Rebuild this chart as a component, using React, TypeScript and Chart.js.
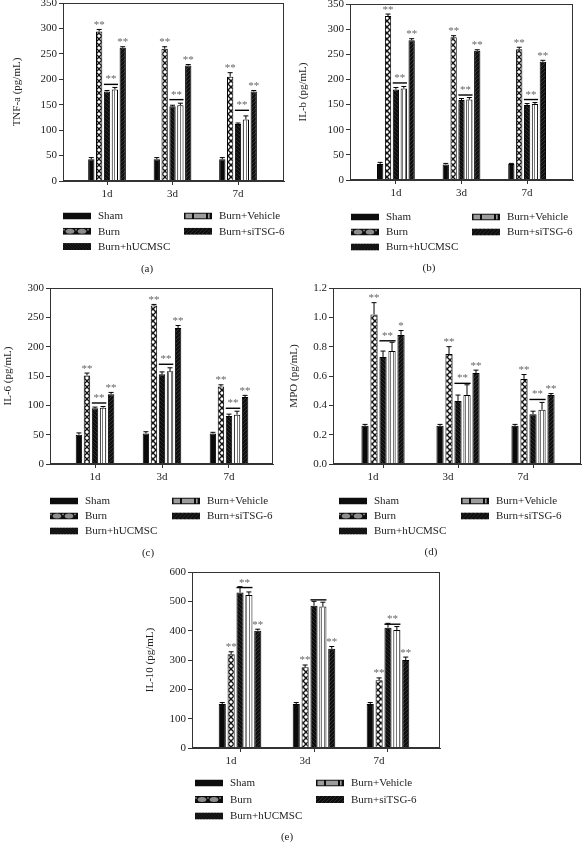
import React, { useEffect, useRef } from 'react';
import { Chart, registerables } from 'chart.js';

Chart.register(...registerables);

const FONT = 'Liberation Serif';
const TEXT = '#222';
const AXIS = '#333';
const STAR = '#666';

const categories = ['1d', '3d', '7d'];
const seriesNames = ['Sham', 'Burn', 'Burn+hUCMSC', 'Burn+Vehicle', 'Burn+siTSG-6'];

// (a) TNF-a
const tnfSham = [43, 43, 43];
const tnfBurn = [294, 260, 205];
const tnfHucmsc = [176, 147, 112];
const tnfVehicle = [180, 149, 121];
const tnfSitsg = [262, 227, 176];
const tnfShamErr = [3, 3, 3];
const tnfBurnErr = [4, 4, 8];
const tnfHucmscErr = [2, 2, 2];
const tnfVehicleErr = [4, 4, 7];
const tnfSitsgErr = [2, 2, 2];
const tnfLine = [190, 160, 139];
const tnfLineStars = ['**', '**', '**'];
const tnfBurnStars = ['**', '**', '**'];
const tnfSitsgStars = ['**', '**', '**'];
const tnfYTicks = [0, 50, 100, 150, 200, 250, 300, 350];

// (b) IL-b
const ilbSham = [32, 31, 32];
const ilbBurn = [326, 284, 260];
const ilbHucmsc = [180, 159, 149];
const ilbVehicle = [182, 160, 151];
const ilbSitsg = [278, 257, 235];
const ilbShamErr = [3, 2, 1];
const ilbBurnErr = [4, 3, 4];
const ilbHucmscErr = [4, 3, 3];
const ilbVehicleErr = [4, 4, 3];
const ilbSitsgErr = [3, 2, 3];
const ilbLine = [193, 169, 160];
const ilbLineStars = ['**', '**', '**'];
const ilbBurnStars = ['**', '**', '**'];
const ilbSitsgStars = ['**', '**', '**'];
const ilbYTicks = [0, 50, 100, 150, 200, 250, 300, 350];

// (c) IL-6
const il6Sham = [50, 52, 52];
const il6Burn = [151, 270, 132];
const il6Hucmsc = [95, 153, 82];
const il6Vehicle = [96, 158, 84];
const il6Sitsg = [119, 232, 114];
const il6ShamErr = [3, 3, 2];
const il6BurnErr = [4, 2, 3];
const il6HucmscErr = [2, 4, 3];
const il6VehicleErr = [2, 6, 6];
const il6SitsgErr = [3, 4, 3];
const il6Line = [104, 170, 95];
const il6LineStars = ['**', '**', '**'];
const il6BurnStars = ['**', '**', '**'];
const il6SitsgStars = ['**', '**', '**'];
const il6YTicks = [0, 50, 100, 150, 200, 250, 300];

// (d) MPO
const mpoSham = [0.26, 0.26, 0.26];
const mpoBurn = [1.02, 0.75, 0.58];
const mpoHucmsc = [0.73, 0.43, 0.34];
const mpoVehicle = [0.77, 0.47, 0.37];
const mpoSitsg = [0.88, 0.62, 0.47];
const mpoShamErr = [0.01, 0.01, 0.01];
const mpoBurnErr = [0.08, 0.05, 0.03];
const mpoHucmscErr = [0.04, 0.04, 0.02];
const mpoVehicleErr = [0.06, 0.07, 0.05];
const mpoSitsgErr = [0.03, 0.02, 0.01];
const mpoLine = [0.84, 0.55, 0.44];
const mpoLineStars = ['**', '**', '**'];
const mpoBurnStars = ['**', '**', '**'];
const mpoSitsgStars = ['*', '**', '**'];
const mpoYTicks = [0, 0.2, 0.4, 0.6, 0.8, 1.0, 1.2];

// (e) IL-10
const il10Sham = [150, 150, 150];
const il10Burn = [320, 275, 231];
const il10Hucmsc = [530, 485, 410];
const il10Vehicle = [522, 482, 402];
const il10Sitsg = [400, 338, 300];
const il10ShamErr = [5, 5, 5];
const il10BurnErr = [8, 8, 8];
const il10HucmscErr = [20, 15, 15];
const il10VehicleErr = [10, 15, 12];
const il10SitsgErr = [5, 8, 10];
const il10Line = [547, 505, 422];
const il10LineStars = ['**', '', '**'];
const il10BurnStars = ['**', '**', '**'];
const il10SitsgStars = ['**', '**', '**'];
const il10YTicks = [0, 100, 200, 300, 400, 500, 600];

type Layout = {
  left: number; right: number; top: number; bottom: number; titleX: number;
  xMin: number; xMax: number; labelOffset: number;
  legendX1: number; legendX2: number; legendY: number; legendStep: number;
  captionX: number; captionY: number;
};

type Panel = {
  key: string; yTitle: string; caption: string;
  values: number[][]; errors: number[][];
  sigLine: number[]; lineStars: string[]; burnStars: string[]; sitsgStars: string[];
  yTicks: number[]; decimals: number; layout: Layout;
};

const panels: Panel[] = [
  {
    key: 'a', yTitle: 'TNF-a (pg/mL)', caption: '(a)',
    values: [tnfSham, tnfBurn, tnfHucmsc, tnfVehicle, tnfSitsg],
    errors: [tnfShamErr, tnfBurnErr, tnfHucmscErr, tnfVehicleErr, tnfSitsgErr],
    sigLine: tnfLine, lineStars: tnfLineStars, burnStars: tnfBurnStars, sitsgStars: tnfSitsgStars,
    yTicks: tnfYTicks, decimals: 0,
    layout: { left: 63, right: 284, top: 3, bottom: 181, titleX: 17, xMin: -0.672, xMax: 2.702, labelOffset: 0,
      legendX1: 63, legendX2: 184, legendY: 216, legendStep: 15.3, captionX: 147, captionY: 269 },
  },
  {
    key: 'b', yTitle: 'IL-b (pg/mL)', caption: '(b)',
    values: [ilbSham, ilbBurn, ilbHucmsc, ilbVehicle, ilbSitsg],
    errors: [ilbShamErr, ilbBurnErr, ilbHucmscErr, ilbVehicleErr, ilbSitsgErr],
    sigLine: ilbLine, lineStars: ilbLineStars, burnStars: ilbBurnStars, sitsgStars: ilbSitsgStars,
    yTicks: ilbYTicks, decimals: 0,
    layout: { left: 350, right: 573, top: 4, bottom: 180, titleX: 303, xMin: -0.70, xMax: 2.70, labelOffset: 0,
      legendX1: 351, legendX2: 472, legendY: 217, legendStep: 15, captionX: 429, captionY: 268 },
  },
  {
    key: 'c', yTitle: 'IL-6 (pg/mL)', caption: '(c)',
    values: [il6Sham, il6Burn, il6Hucmsc, il6Vehicle, il6Sitsg],
    errors: [il6ShamErr, il6BurnErr, il6HucmscErr, il6VehicleErr, il6SitsgErr],
    sigLine: il6Line, lineStars: il6LineStars, burnStars: il6BurnStars, sitsgStars: il6SitsgStars,
    yTicks: il6YTicks, decimals: 0,
    layout: { left: 50, right: 273, top: 288, bottom: 464, titleX: 8, xMin: -0.672, xMax: 2.657, labelOffset: 0,
      legendX1: 50, legendX2: 172, legendY: 501, legendStep: 15, captionX: 148, captionY: 553 },
  },
  {
    key: 'd', yTitle: 'MPO (pg/mL)', caption: '(d)',
    values: [mpoSham, mpoBurn, mpoHucmsc, mpoVehicle, mpoSitsg],
    errors: [mpoShamErr, mpoBurnErr, mpoHucmscErr, mpoVehicleErr, mpoSitsgErr],
    sigLine: mpoLine, lineStars: mpoLineStars, burnStars: mpoBurnStars, sitsgStars: mpoSitsgStars,
    yTicks: mpoYTicks, decimals: 1,
    layout: { left: 333, right: 581, top: 288, bottom: 464, titleX: 294, xMin: -0.667, xMax: 2.64, labelOffset: -10,
      legendX1: 339, legendX2: 461, legendY: 501, legendStep: 15, captionX: 431, captionY: 552 },
  },
  {
    key: 'e', yTitle: 'IL-10 (pg/mL)', caption: '(e)',
    values: [il10Sham, il10Burn, il10Hucmsc, il10Vehicle, il10Sitsg],
    errors: [il10ShamErr, il10BurnErr, il10HucmscErr, il10VehicleErr, il10SitsgErr],
    sigLine: il10Line, lineStars: il10LineStars, burnStars: il10BurnStars, sitsgStars: il10SitsgStars,
    yTicks: il10YTicks, decimals: 0,
    layout: { left: 192, right: 440, top: 572, bottom: 748, titleX: 150, xMin: -0.649, xMax: 2.703, labelOffset: -9,
      legendX1: 195, legendX2: 316, legendY: 783, legendStep: 16.5, captionX: 287, captionY: 837 },
  },
];

const W = 583;
const H = 842;
const XH = 22;

function makePatterns(): (CanvasPattern | string)[] {
  const mk = (w: number, h: number, draw: (g: CanvasRenderingContext2D) => void) => {
    const c = document.createElement('canvas');
    c.width = w; c.height = h;
    const g = c.getContext('2d')!;
    draw(g);
    return g.createPattern(c, 'repeat')!;
  };
  const sham = '#0a0a0a';
  const burn = mk(6, 6, (g) => {
    g.fillStyle = '#fff'; g.fillRect(0, 0, 6, 6);
    g.strokeStyle = '#111'; g.lineWidth = 1.4;
    g.beginPath();
    g.moveTo(-1, -1); g.lineTo(7, 7);
    g.moveTo(7, -1); g.lineTo(-1, 7);
    g.stroke();
  });
  const huc = mk(4, 4, (g) => {
    g.fillStyle = '#0e0e0e'; g.fillRect(0, 0, 4, 4);
    g.strokeStyle = '#363636'; g.lineWidth = 0.8;
    g.beginPath();
    g.moveTo(-1, -1); g.lineTo(5, 5);
    g.moveTo(3, -1); g.lineTo(5, 1);
    g.moveTo(-1, 3); g.lineTo(1, 5);
    g.stroke();
  });
  const veh = mk(3, 2, (g) => {
    g.fillStyle = '#fff'; g.fillRect(0, 0, 3, 2);
    g.fillStyle = '#777'; g.fillRect(0, 0, 1, 2);
  });
  const sit = mk(4, 4, (g) => {
    g.fillStyle = '#101010'; g.fillRect(0, 0, 4, 4);
    g.strokeStyle = '#3c3c3c'; g.lineWidth = 0.8;
    g.beginPath();
    g.moveTo(-1, 5); g.lineTo(5, -1);
    g.moveTo(-1, 1); g.lineTo(1, -1);
    g.moveTo(3, 5); g.lineTo(5, 3);
    g.stroke();
  });
  return [sham, burn, huc, veh, sit];
}

function drawSwatch(ctx: CanvasRenderingContext2D, kind: number, x: number, y: number, w: number, h: number) {
  ctx.save();
  ctx.beginPath(); ctx.rect(x, y, w, h); ctx.clip();
  ctx.fillStyle = '#0d0d0d'; ctx.fillRect(x, y, w, h);
  if (kind === 1) {
    ctx.fillStyle = '#8c8c8c';
    [7, 19].forEach((cx) => { ctx.beginPath(); ctx.ellipse(x + cx, y + h / 2, 4.3, 2.5, 0, 0, Math.PI * 2); ctx.fill(); });
    [1, 13, 25].forEach((cx) => { ctx.beginPath(); ctx.arc(x + cx, y + h / 2 - 1.6, 0.9, 0, Math.PI * 2); ctx.fill(); });
  } else if (kind === 2) {
    ctx.strokeStyle = '#262626'; ctx.lineWidth = 1;
    for (let k = -h; k < w + h; k += 3) { ctx.beginPath(); ctx.moveTo(x + k, y); ctx.lineTo(x + k + h, y + h); ctx.stroke(); }
  } else if (kind === 3) {
    ctx.fillStyle = '#9c9c9c';
    ctx.fillRect(x + 1.5, y + 1.2, 6.5, h - 2.4);
    ctx.fillRect(x + 10, y + 1.2, 12, h - 2.4);
    ctx.fillRect(x + 24, y + 1.2, 1.6, h - 2.4);
  } else if (kind === 4) {
    ctx.strokeStyle = '#2e2e2e'; ctx.lineWidth = 1;
    for (let k = -h; k < w + h; k += 4) { ctx.beginPath(); ctx.moveTo(x + k, y + h); ctx.lineTo(x + k + h, y); ctx.stroke(); }
  }
  ctx.restore();
}

function decorPlugin(p: Panel) {
  return {
    id: 'decor' + p.key,
    afterDraw(chart: any) {
      const ctx: CanvasRenderingContext2D = chart.ctx;
      const ca = chart.chartArea;
      const ys = chart.scales.y;
      const L = p.layout;
      ctx.save();
      // frame
      ctx.strokeStyle = AXIS; ctx.lineWidth = 1;
      ctx.strokeRect(Math.round(ca.left) + 0.5, Math.round(ca.top) + 0.5,
        Math.round(ca.right) - Math.round(ca.left) - 1, Math.round(ca.bottom) - Math.round(ca.top) - 1);

      ctx.font = `11px "${FONT}"`;
      ctx.textAlign = 'center';
      ctx.textBaseline = 'alphabetic';
      // error bars and stars
      p.values.forEach((vals, si) => {
        const meta = chart.getDatasetMeta(si);
        vals.forEach((v, i) => {
          const el: any = meta.data[i];
          if (!el) return;
          const x = el.x;
          const yv = ys.getPixelForValue(v);
          const ye = ys.getPixelForValue(v + p.errors[si][i]);
          ctx.strokeStyle = '#000'; ctx.lineWidth = 1;
          ctx.beginPath();
          ctx.moveTo(x, yv); ctx.lineTo(x, ye);
          ctx.moveTo(x - 2.5, ye); ctx.lineTo(x + 2.5, ye);
          ctx.stroke();
          const star = si === 1 ? p.burnStars[i] : si === 4 ? p.sitsgStars[i] : '';
          if (star) { ctx.fillStyle = STAR; ctx.fillText(star, x, ye - 1.5); }
        });
      });
      // significance lines
      const mH = chart.getDatasetMeta(2);
      const mV = chart.getDatasetMeta(3);
      p.sigLine.forEach((lv, i) => {
        const a: any = mH.data[i];
        const b: any = mV.data[i];
        const x0 = a.x - a.width / 2;
        const x1 = b.x + b.width / 2;
        const y = ys.getPixelForValue(lv);
        ctx.strokeStyle = '#000'; ctx.lineWidth = 1.4;
        ctx.beginPath(); ctx.moveTo(x0, y); ctx.lineTo(x1, y); ctx.stroke();
        if (p.lineStars[i]) { ctx.fillStyle = STAR; ctx.fillText(p.lineStars[i], (x0 + x1) / 2, y - 2); }
      });

      // legend
      const order = [
        { si: 0, col: 0, row: 0 }, { si: 1, col: 0, row: 1 }, { si: 2, col: 0, row: 2 },
        { si: 3, col: 1, row: 0 }, { si: 4, col: 1, row: 1 },
      ];
      ctx.textAlign = 'left';
      ctx.textBaseline = 'middle';
      ctx.font = `11px "${FONT}"`;
      order.forEach(({ si, col, row }) => {
        const x = col === 0 ? L.legendX1 : L.legendX2;
        const y = L.legendY + row * L.legendStep;
        drawSwatch(ctx, si, x, y - 3.5, 28, 7);
        ctx.fillStyle = TEXT;
        ctx.fillText(seriesNames[si], x + 35, y + 0.5);
      });
      // caption
      ctx.textAlign = 'center';
      ctx.fillText(p.caption, L.captionX, L.captionY);
      ctx.restore();
    },
  };
}

function PanelChart({ p }: { p: Panel }) {
  const ref = useRef<HTMLCanvasElement>(null);
  useEffect(() => {
    const canvas = ref.current;
    if (!canvas) return;
    const L = p.layout;
    const patterns = makePatterns();
    const padLeft = Math.max(0, L.titleX - 6.6);
    const yWidth = L.left - padLeft;
    const chart = new Chart(canvas, {
      type: 'bar',
      data: {
        datasets: seriesNames.map((name, si) => ({
          label: name,
          data: p.values[si].map((v, i) => ({ x: i, y: v })),
          backgroundColor: patterns[si] as any,
          borderColor: '#000',
          borderWidth: 1,
          categoryPercentage: 0.6,
          barPercentage: 0.8,
        })),
      },
      options: {
        responsive: false,
        animation: false,
        devicePixelRatio: 1,
        layout: {
          padding: { left: padLeft, top: L.top, right: W - L.right, bottom: H - L.bottom - XH },
        },
        plugins: {
          legend: { display: false },
          tooltip: { enabled: false },
          title: { display: false },
        },
        scales: {
          x: {
            type: 'linear',
            min: L.xMin,
            max: L.xMax,
            offset: false,
            afterBuildTicks: (s: any) => { s.ticks = categories.map((_, i) => ({ value: i })); },
            afterFit: (s: any) => { s.height = XH; s.paddingLeft = 0; s.paddingRight = 0; },
            ticks: {
              callback: (v: any) => categories[Math.round(Number(v))] ?? '',
              font: { family: FONT, size: 11 },
              color: TEXT,
              padding: 3,
              labelOffset: L.labelOffset,
              maxRotation: 0,
              autoSkip: false,
            },
            grid: { offset: false, drawOnChartArea: false, drawTicks: true, tickLength: 4, color: AXIS },
            border: { display: true, color: AXIS },
          } as any,
          y: {
            type: 'linear',
            min: 0,
            max: p.yTicks[p.yTicks.length - 1],
            afterBuildTicks: (s: any) => { s.ticks = p.yTicks.map((v) => ({ value: v })); },
            afterFit: (s: any) => { s.width = yWidth; s.paddingTop = 0; s.paddingBottom = 0; },
            ticks: {
              callback: (v: any) => Number(v).toFixed(p.decimals),
              font: { family: FONT, size: 11 },
              color: TEXT,
              padding: 2,
            },
            title: {
              display: true,
              text: p.yTitle,
              font: { family: FONT, size: 11 },
              color: TEXT,
              padding: { top: 0, bottom: 0 },
            },
            grid: { drawOnChartArea: false, drawTicks: true, tickLength: 4, color: AXIS },
            border: { display: true, color: AXIS },
          } as any,
        },
      },
      plugins: [decorPlugin(p)],
    });
    return () => chart.destroy();
  }, [p]);
  return (
    <canvas
      ref={ref}
      width={W}
      height={H}
      style={{ position: 'absolute', left: 0, top: 0, width: W, height: H }}
    />
  );
}

export default function App() {
  return (
    <div style={{ position: 'absolute', left: 0, top: 0, width: W, height: H, background: '#fff', overflow: 'hidden' }}>
      {panels.map((p) => (
        <PanelChart key={p.key} p={p} />
      ))}
    </div>
  );
}
